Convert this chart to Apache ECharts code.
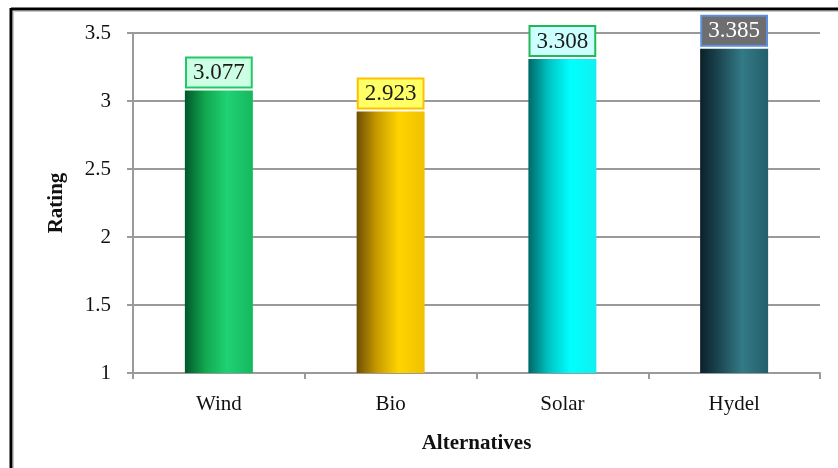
<!DOCTYPE html>
<html>
<head>
<meta charset="utf-8">
<script src="https://cdn.jsdelivr.net/npm/echarts@6/dist/echarts.min.js"></script>
<style>
  html, body { margin: 0; padding: 0; background: #ffffff; }
  #chart { width: 838px; height: 468px; }
</style>
</head>
<body>
<div id="chart"></div>
<script>
// Ratings of the renewable energy alternatives
const categories = ['Wind', 'Bio', 'Solar', 'Hydel'];
const ratings = [3.077, 2.923, 3.308, 3.385];
const yTicks = { min: 1, max: 3.5, step: 0.5 };

// Per-bar look: horizontal shading of the bar and the boxed value label
const barShades = [
  ['#00582a', '#12a850', '#1fd273', '#16b85e'],
  ['#6e4f00', '#c99a00', '#ffd400', '#f0c000'],
  ['#006868', '#00c4c4', '#00ffff', '#10f0f0'],
  ['#0b2029', '#1d4a55', '#337a86', '#245f6a']
];
const labelBoxes = [
  { bg: '#ccffe4', border: '#22c864', text: '#1a1a1a' },
  { bg: '#ffff66', border: '#ffc000', text: '#1a1a1a' },
  { bg: '#ccffff', border: '#22b855', text: '#1a1a1a' },
  { bg: '#6e6e6e', border: '#5b8fdc', text: '#ffffff' }
];

const serif = '"Liberation Serif", "Times New Roman", serif';

function gradient(stops) {
  return new echarts.graphic.LinearGradient(0, 0, 1, 0, [
    { offset: 0, color: stops[0] },
    { offset: 0.3, color: stops[1] },
    { offset: 0.62, color: stops[2] },
    { offset: 1, color: stops[3] }
  ]);
}

const barData = ratings.map((v, i) => ({
  value: v,
  itemStyle: { color: gradient(barShades[i]) },
  label: {
    backgroundColor: labelBoxes[i].bg,
    borderColor: labelBoxes[i].border,
    color: labelBoxes[i].text
  }
}));

const chart = echarts.init(document.getElementById('chart'));
chart.setOption({
  animation: false,
  backgroundColor: '#ffffff',
  grid: { left: 133, right: 18, top: 33, bottom: 95 },
  graphic: [
    { type: 'line', shape: { x1: 11, y1: 9, x2: 838, y2: 9 }, style: { stroke: '#000', lineWidth: 3 } },
    { type: 'line', shape: { x1: 11, y1: 8, x2: 11, y2: 468 }, style: { stroke: '#000', lineWidth: 3 } },
    { type: 'line', shape: { x1: 13.5, y1: 11.5, x2: 838, y2: 11.5 }, style: { stroke: '#c8c8c8', lineWidth: 1 } },
    { type: 'line', shape: { x1: 13.5, y1: 11.5, x2: 13.5, y2: 468 }, style: { stroke: '#c8c8c8', lineWidth: 1 } }
  ],
  xAxis: {
    type: 'category',
    data: categories,
    name: 'Alternatives',
    nameLocation: 'middle',
    nameGap: 60,
    nameTextStyle: { fontFamily: serif, fontSize: 21, fontWeight: 'bold', color: '#111' },
    axisLine: { lineStyle: { color: '#9a9a9a', width: 2 } },
    axisTick: { show: true, length: 6, lineStyle: { color: '#9a9a9a', width: 2 } },
    axisLabel: { fontFamily: serif, fontSize: 21, color: '#111', margin: 21 }
  },
  yAxis: {
    type: 'value',
    min: yTicks.min,
    max: yTicks.max,
    interval: yTicks.step,
    name: 'Rating',
    nameLocation: 'middle',
    nameGap: 66,
    nameTextStyle: { fontFamily: serif, fontSize: 21, fontWeight: 'bold', color: '#111' },
    axisLine: { show: true, lineStyle: { color: '#9a9a9a', width: 2 } },
    axisTick: { show: true, length: 6, lineStyle: { color: '#9a9a9a', width: 2 } },
    axisLabel: { fontFamily: serif, fontSize: 21, color: '#111', margin: 22 },
    splitLine: { lineStyle: { color: '#9a9a9a', width: 2 } }
  },
  series: [{
    type: 'bar',
    data: barData,
    barWidth: 68,
    label: {
      show: true,
      position: 'top',
      distance: 4,
      fontFamily: serif,
      fontSize: 23,
      borderWidth: 2,
      padding: [3, 6, 2, 6],
      formatter: p => p.value.toFixed(3)
    }
  }]
});
</script>
</body>
</html>
